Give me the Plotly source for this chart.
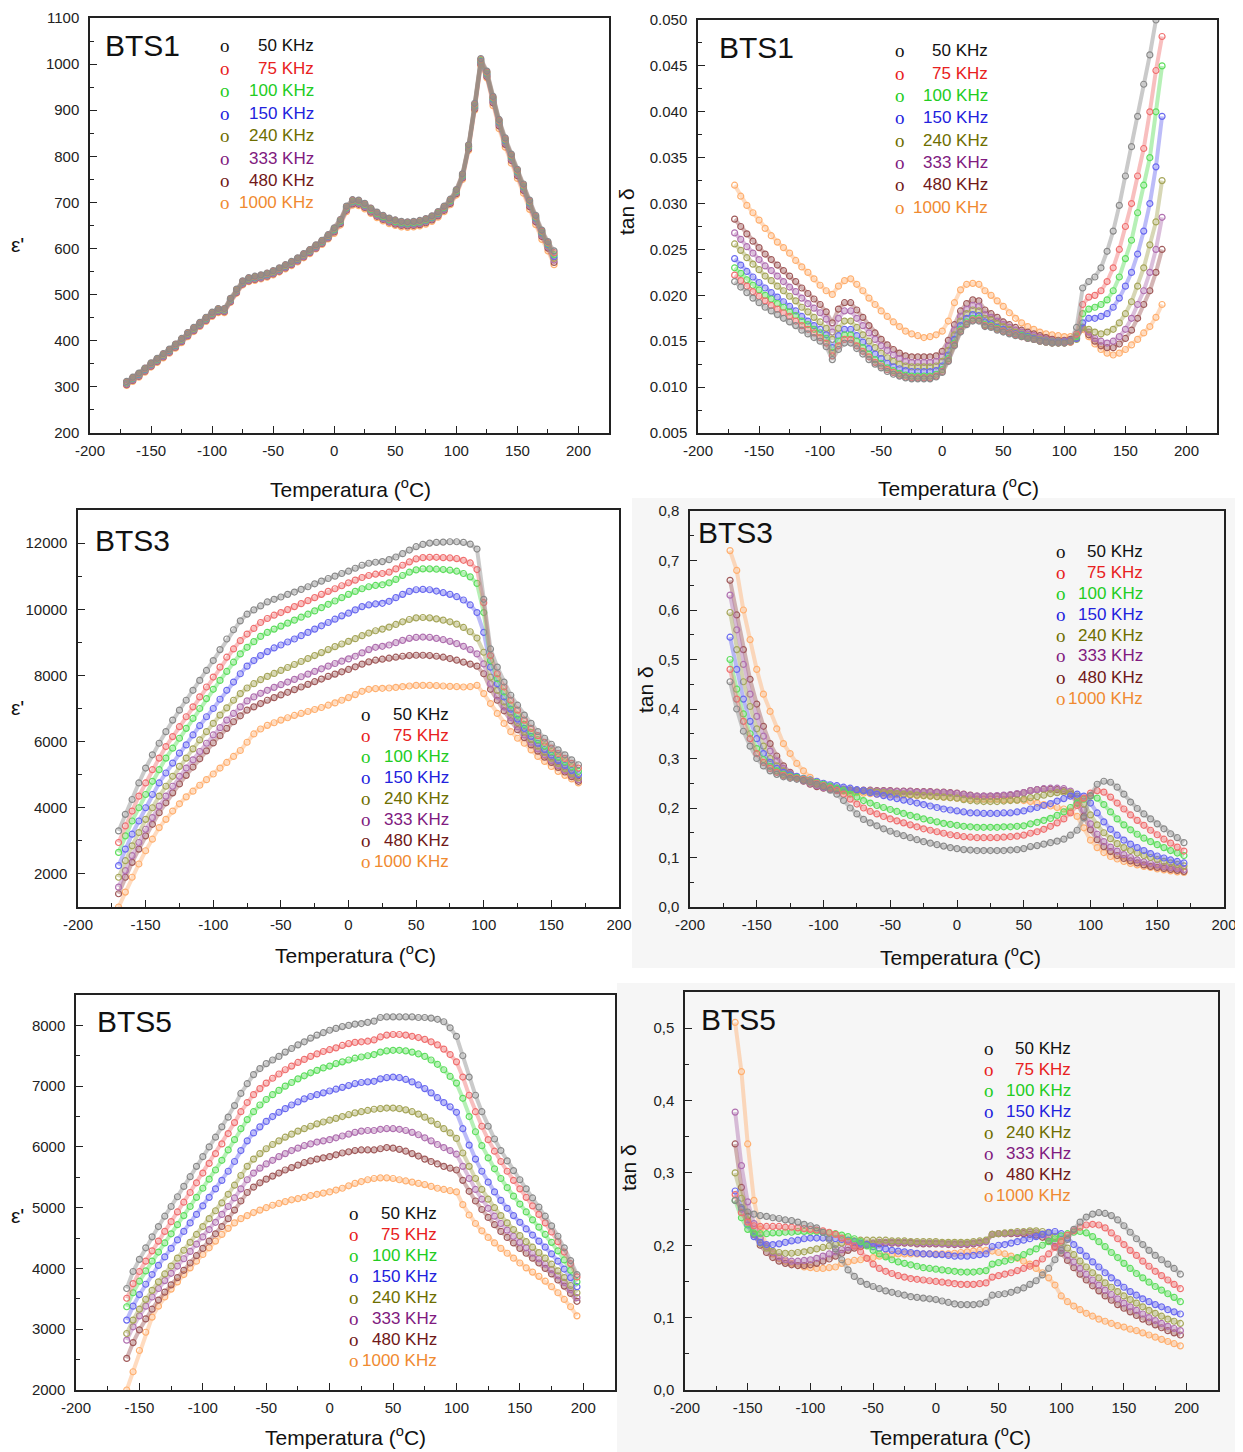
import plotly.graph_objects as go

W, H = 1243, 1452
OFF = 8                  # default page margin in front of the plot div
FW, FH = W - OFF, H - OFF

freq_labels = ["50 KHz", "75 KHz", "100 KHz", "150 KHz", "240 KHz", "333 KHz", "480 KHz", "1000 KHz"]
text_colors = ["#111111", "#e82020", "#22cc22", "#2222dd", "#6e6e00", "#801a80", "#701818", "#f08a30"]
marker_colors = ["#8a8a8a", "#f07070", "#5ede5e", "#6a6af0", "#a6a65a", "#b070b0", "#a05a5a", "#ffb070"]
band_colors = ["rgba(138,138,138,0.45)", "rgba(240,112,112,0.45)", "rgba(94,222,94,0.45)",
               "rgba(106,106,240,0.45)", "rgba(166,166,90,0.45)", "rgba(176,112,176,0.45)",
               "rgba(160,90,90,0.45)", "rgba(255,176,112,0.45)"]

# temperature grids (°C)
T1 = list(range(-170, 181, 5))
T3 = list(range(-170, 171, 5))
T5 = list(range(-160, 196, 5))

# ---------------- BTS1 eps' ----------------
eps1_50 = [312, 321, 330, 341, 352, 362, 372, 382, 393, 405,
           418, 429, 440, 451, 462, 470, 470, 492, 512, 530,
           537, 540, 543, 547, 552, 558, 565, 572, 580, 589,
           598, 608, 618, 630, 645, 663, 692, 706, 705, 698,
           688, 679, 672, 666, 662, 659, 658, 659, 661, 665,
           671, 680, 692, 707, 728, 762, 825, 915, 1012, 985,
           930, 880, 840, 805, 772, 740, 705, 672, 640, 615,
           595]
eps1_75 = [311, 320, 329, 340, 351, 361, 371, 381, 392, 404,
           417, 428, 439, 450, 461, 469, 469, 491, 511, 529,
           536, 539, 542, 546, 551, 557, 564, 571, 579, 588,
           597, 607, 617, 629, 644, 662, 691, 705, 704, 697,
           687, 678, 671, 665, 661, 658, 657, 658, 660, 664,
           670, 679, 691, 706, 727, 761, 824, 913, 1010, 983,
           928, 878, 838, 803, 770, 738, 703, 670, 638, 613,
           591]
eps1_100 = [310, 319, 328, 339, 350, 360, 370, 380, 391, 403,
            416, 427, 438, 449, 460, 468, 468, 490, 510, 528,
            535, 538, 541, 545, 550, 556, 563, 570, 578, 587,
            596, 606, 616, 628, 642, 660, 689, 703, 702, 695,
            685, 676, 669, 663, 659, 656, 655, 656, 658, 662,
            668, 677, 689, 704, 725, 759, 822, 911, 1008, 981,
            926, 876, 836, 801, 768, 736, 701, 668, 636, 611,
            587]
eps1_150 = [309, 318, 327, 338, 349, 359, 369, 379, 390, 402,
            415, 426, 437, 448, 459, 467, 467, 489, 509, 527,
            534, 537, 540, 544, 549, 555, 562, 569, 577, 586,
            595, 605, 615, 627, 641, 659, 688, 702, 701, 694,
            684, 675, 668, 662, 658, 655, 654, 655, 657, 661,
            667, 676, 688, 703, 724, 758, 821, 909, 1006, 979,
            924, 874, 834, 799, 766, 734, 699, 666, 634, 609,
            583]
eps1_240 = [308, 317, 326, 337, 348, 358, 368, 378, 389, 401,
            414, 425, 436, 447, 458, 466, 466, 488, 508, 526,
            533, 536, 539, 543, 548, 554, 561, 568, 576, 585,
            594, 604, 614, 626, 640, 658, 687, 701, 700, 693,
            683, 674, 667, 661, 657, 654, 653, 654, 656, 660,
            666, 675, 687, 702, 723, 757, 820, 907, 1004, 977,
            922, 872, 832, 797, 764, 732, 697, 664, 632, 607,
            579]
eps1_333 = [306, 315, 324, 335, 346, 356, 366, 376, 387, 399,
            412, 423, 434, 445, 456, 464, 464, 486, 506, 524,
            531, 534, 537, 541, 546, 552, 559, 566, 574, 583,
            592, 602, 612, 624, 638, 656, 685, 699, 698, 691,
            681, 672, 665, 659, 655, 652, 651, 652, 654, 658,
            664, 673, 685, 700, 721, 755, 818, 905, 1002, 975,
            919, 869, 829, 794, 761, 729, 694, 661, 629, 604,
            575]
eps1_480 = [305, 314, 323, 334, 345, 355, 365, 375, 386, 398,
            411, 422, 433, 444, 455, 463, 463, 485, 505, 523,
            530, 533, 536, 540, 545, 551, 558, 565, 573, 582,
            591, 601, 611, 623, 636, 654, 683, 697, 696, 689,
            679, 670, 663, 657, 653, 650, 649, 650, 652, 656,
            662, 671, 683, 698, 719, 753, 816, 903, 1000, 973,
            916, 866, 826, 791, 758, 726, 691, 658, 626, 601,
            570]
eps1_1000 = [303, 312, 321, 332, 343, 353, 363, 373, 384, 396,
             409, 420, 431, 442, 453, 461, 461, 483, 503, 521,
             528, 531, 534, 538, 543, 549, 556, 563, 571, 580,
             589, 599, 609, 621, 633, 651, 680, 694, 693, 686,
             676, 667, 660, 654, 650, 647, 646, 647, 649, 653,
             659, 668, 680, 695, 716, 750, 813, 900, 997, 970,
             910, 860, 820, 785, 752, 720, 685, 652, 620, 595,
             565]

# ---------------- BTS1 tan delta ----------------
tan1_50 = [0.0215, 0.0209, 0.0203, 0.0197, 0.0192, 0.0187, 0.0183, 0.0179, 0.0175, 0.0171,
           0.0167, 0.0162, 0.0158, 0.0154, 0.0150, 0.0144, 0.0130, 0.0141, 0.0148, 0.0148,
           0.0142, 0.0136, 0.0130, 0.0125, 0.0121, 0.0117, 0.0114, 0.0112, 0.0110, 0.0109,
           0.0109, 0.0109, 0.0109, 0.0111, 0.0116, 0.0128, 0.0145, 0.0160, 0.0168, 0.0172,
           0.0172, 0.0166, 0.0165, 0.0162, 0.0160, 0.0158, 0.0156, 0.0155, 0.0153, 0.0152,
           0.0150, 0.0149, 0.0148, 0.0148, 0.0148, 0.0150, 0.0165, 0.0208, 0.0215, 0.0220,
           0.0230, 0.0248, 0.0270, 0.0298, 0.0330, 0.0362, 0.0395, 0.0430, 0.0462, 0.0500,
           0.0540]
tan1_75 = [0.0222, 0.0216, 0.0210, 0.0204, 0.0199, 0.0194, 0.0189, 0.0185, 0.0181, 0.0177,
           0.0172, 0.0167, 0.0163, 0.0159, 0.0154, 0.0148, 0.0134, 0.0145, 0.0152, 0.0152,
           0.0145, 0.0139, 0.0133, 0.0127, 0.0123, 0.0119, 0.0116, 0.0113, 0.0111, 0.0110,
           0.0110, 0.0110, 0.0110, 0.0112, 0.0117, 0.0129, 0.0146, 0.0161, 0.0169, 0.0173,
           0.0173, 0.0167, 0.0166, 0.0163, 0.0161, 0.0159, 0.0157, 0.0155, 0.0153, 0.0152,
           0.0150, 0.0149, 0.0148, 0.0148, 0.0148, 0.0149, 0.0158, 0.0190, 0.0198, 0.0200,
           0.0205, 0.0215, 0.0230, 0.0250, 0.0275, 0.0300, 0.0330, 0.0360, 0.0400, 0.0445,
           0.0482]
tan1_100 = [0.0230, 0.0224, 0.0217, 0.0211, 0.0206, 0.0200, 0.0196, 0.0191, 0.0187, 0.0182,
            0.0178, 0.0172, 0.0168, 0.0163, 0.0159, 0.0153, 0.0138, 0.0150, 0.0157, 0.0157,
            0.0150, 0.0143, 0.0136, 0.0130, 0.0126, 0.0121, 0.0118, 0.0115, 0.0113, 0.0112,
            0.0112, 0.0112, 0.0112, 0.0114, 0.0119, 0.0131, 0.0148, 0.0163, 0.0171, 0.0175,
            0.0175, 0.0168, 0.0167, 0.0164, 0.0161, 0.0159, 0.0157, 0.0156, 0.0154, 0.0152,
            0.0150, 0.0149, 0.0148, 0.0148, 0.0148, 0.0149, 0.0155, 0.0180, 0.0185, 0.0187,
            0.0190, 0.0195, 0.0205, 0.0220, 0.0240, 0.0260, 0.0290, 0.0320, 0.0350, 0.0400,
            0.0450]
tan1_150 = [0.0240, 0.0233, 0.0226, 0.0220, 0.0214, 0.0208, 0.0203, 0.0198, 0.0193, 0.0188,
            0.0183, 0.0177, 0.0172, 0.0167, 0.0163, 0.0157, 0.0143, 0.0156, 0.0163, 0.0163,
            0.0156, 0.0149, 0.0142, 0.0136, 0.0131, 0.0126, 0.0122, 0.0120, 0.0118, 0.0117,
            0.0117, 0.0117, 0.0117, 0.0118, 0.0123, 0.0135, 0.0152, 0.0167, 0.0175, 0.0179,
            0.0178, 0.0171, 0.0169, 0.0165, 0.0163, 0.0160, 0.0158, 0.0157, 0.0155, 0.0153,
            0.0151, 0.0150, 0.0149, 0.0149, 0.0149, 0.0150, 0.0153, 0.0170, 0.0175, 0.0175,
            0.0177, 0.0180, 0.0187, 0.0197, 0.0210, 0.0225, 0.0245, 0.0270, 0.0300, 0.0340,
            0.0395]
tan1_240 = [0.0256, 0.0249, 0.0241, 0.0234, 0.0228, 0.0221, 0.0216, 0.0210, 0.0205, 0.0199,
            0.0194, 0.0187, 0.0182, 0.0176, 0.0171, 0.0164, 0.0152, 0.0164, 0.0172, 0.0172,
            0.0165, 0.0157, 0.0150, 0.0143, 0.0137, 0.0132, 0.0128, 0.0125, 0.0123, 0.0122,
            0.0122, 0.0122, 0.0122, 0.0123, 0.0128, 0.0140, 0.0157, 0.0172, 0.0180, 0.0184,
            0.0183, 0.0175, 0.0173, 0.0169, 0.0166, 0.0163, 0.0160, 0.0158, 0.0156, 0.0154,
            0.0152, 0.0151, 0.0150, 0.0150, 0.0149, 0.0150, 0.0152, 0.0165, 0.0163, 0.0160,
            0.0158, 0.0160, 0.0163, 0.0170, 0.0180, 0.0193, 0.0210, 0.0230, 0.0255, 0.0280,
            0.0325]
tan1_333 = [0.0268, 0.0261, 0.0253, 0.0246, 0.0239, 0.0232, 0.0227, 0.0221, 0.0215, 0.0209,
            0.0204, 0.0197, 0.0191, 0.0186, 0.0181, 0.0174, 0.0160, 0.0175, 0.0183, 0.0183,
            0.0175, 0.0167, 0.0159, 0.0152, 0.0145, 0.0140, 0.0135, 0.0131, 0.0128, 0.0127,
            0.0127, 0.0127, 0.0127, 0.0128, 0.0133, 0.0145, 0.0162, 0.0177, 0.0185, 0.0189,
            0.0188, 0.0179, 0.0176, 0.0172, 0.0168, 0.0165, 0.0162, 0.0160, 0.0158, 0.0156,
            0.0154, 0.0152, 0.0151, 0.0150, 0.0150, 0.0151, 0.0153, 0.0165, 0.0160, 0.0153,
            0.0150, 0.0148, 0.0150, 0.0155, 0.0163, 0.0175, 0.0190, 0.0205, 0.0225, 0.0250,
            0.0285]
tan1_480 = [0.0283, 0.0275, 0.0267, 0.0259, 0.0252, 0.0245, 0.0239, 0.0233, 0.0227, 0.0221,
            0.0215, 0.0208, 0.0202, 0.0196, 0.0190, 0.0182, 0.0170, 0.0185, 0.0192, 0.0192,
            0.0184, 0.0176, 0.0167, 0.0159, 0.0152, 0.0146, 0.0141, 0.0137, 0.0134, 0.0133,
            0.0133, 0.0133, 0.0133, 0.0134, 0.0139, 0.0151, 0.0168, 0.0183, 0.0191, 0.0195,
            0.0194, 0.0184, 0.0180, 0.0176, 0.0171, 0.0168, 0.0165, 0.0162, 0.0160, 0.0158,
            0.0156, 0.0154, 0.0152, 0.0151, 0.0151, 0.0152, 0.0154, 0.0165, 0.0157, 0.0150,
            0.0145, 0.0143, 0.0143, 0.0147, 0.0153, 0.0162, 0.0175, 0.0190, 0.0205, 0.0225,
            0.0250]
tan1_1000 = [0.0320, 0.0308, 0.0298, 0.0290, 0.0282, 0.0273, 0.0265, 0.0258, 0.0252, 0.0246,
             0.0238, 0.0231, 0.0225, 0.0218, 0.0211, 0.0205, 0.0201, 0.0210, 0.0216, 0.0218,
             0.0212, 0.0205, 0.0197, 0.0190, 0.0183, 0.0177, 0.0171, 0.0166, 0.0161, 0.0158,
             0.0156, 0.0154, 0.0155, 0.0157, 0.0161, 0.0172, 0.0192, 0.0206, 0.0212, 0.0213,
             0.0212, 0.0205, 0.0200, 0.0194, 0.0188, 0.0181, 0.0175, 0.0170, 0.0166, 0.0163,
             0.0160, 0.0158, 0.0157, 0.0156, 0.0155, 0.0155, 0.0156, 0.0163, 0.0155, 0.0147,
             0.0141, 0.0137, 0.0135, 0.0137, 0.0141, 0.0146, 0.0152, 0.0159, 0.0166, 0.0176,
             0.0190]

# ---------------- BTS3 eps' ----------------
eps3_50 = [3300, 3800, 4250, 4750, 5200, 5600, 5950, 6300, 6650, 6950,
           7250, 7550, 7850, 8150, 8450, 8780, 9100, 9380, 9650, 9850,
           9980, 10100, 10220, 10300, 10370, 10450, 10520, 10600, 10680, 10770,
           10850, 10930, 11000, 11080, 11150, 11240, 11330, 11390, 11420, 11440,
           11500, 11580, 11680, 11790, 11890, 11960, 12000, 12020, 12030, 12040,
           12040, 12020, 11970, 11820, 10300, 8800, 8250, 7800, 7400, 7100,
           6800, 6550, 6300, 6100, 5920, 5750, 5600, 5450, 5300]
eps3_75 = [2950, 3450, 3900, 4350, 4750, 5150, 5500, 5850, 6150, 6450,
           6750, 7050, 7350, 7650, 7950, 8250, 8550, 8800, 9050, 9250,
           9420, 9600, 9720, 9820, 9900, 9990, 10080, 10170, 10260, 10350,
           10450, 10540, 10620, 10710, 10800, 10880, 10960, 11020, 11060, 11080,
           11120, 11220, 11330, 11430, 11520, 11560, 11570, 11570, 11560, 11550,
           11530, 11480, 11400, 11200, 10200, 8600, 8050, 7650, 7250, 6950,
           6650, 6400, 6180, 5980, 5800, 5640, 5490, 5340, 5200]
eps3_100 = [2650, 3150, 3600, 4000, 4400, 4800, 5150, 5500, 5800, 6100,
            6400, 6700, 7000, 7300, 7580, 7850, 8120, 8400, 8650, 8850,
            9020, 9180, 9300, 9400, 9490, 9580, 9670, 9760, 9850, 9950,
            10050, 10150, 10250, 10350, 10450, 10540, 10620, 10680, 10720, 10740,
            10800, 10900, 11020, 11120, 11190, 11220, 11220, 11210, 11200, 11180,
            11150, 11080, 10980, 10780, 9900, 8450, 7900, 7500, 7100, 6800,
            6520, 6280, 6060, 5870, 5700, 5540, 5390, 5240, 5100]
eps3_150 = [2250, 2750, 3200, 3600, 4000, 4400, 4750, 5050, 5350, 5650,
            5900, 6200, 6480, 6750, 7000, 7280, 7550, 7800, 8050, 8280,
            8450, 8600, 8720, 8830, 8920, 9010, 9100, 9200, 9300, 9400,
            9500, 9600, 9700, 9800, 9880, 9980, 10080, 10130, 10160, 10180,
            10240, 10350, 10450, 10540, 10590, 10600, 10590, 10550, 10500, 10450,
            10380, 10280, 10130, 9900, 9300, 8250, 7750, 7350, 6980, 6680,
            6400, 6160, 5950, 5760, 5590, 5430, 5280, 5130, 5000]
eps3_240 = [1900, 2400, 2850, 3250, 3650, 4000, 4350, 4650, 4950, 5250,
            5500, 5780, 6050, 6300, 6550, 6800, 7020, 7250, 7450, 7620,
            7750, 7870, 7970, 8060, 8150, 8240, 8330, 8420, 8510, 8600,
            8690, 8780, 8870, 8950, 9030, 9110, 9200, 9280, 9350, 9400,
            9460, 9540, 9620, 9690, 9740, 9750, 9740, 9710, 9670, 9620,
            9550, 9450, 9320, 9130, 8700, 7950, 7550, 7200, 6860, 6570,
            6300, 6070, 5860, 5670, 5500, 5340, 5190, 5040, 4900]
eps3_333 = [1600, 2100, 2550, 2950, 3350, 3700, 4050, 4350, 4650, 4950,
            5200, 5450, 5700, 5950, 6200, 6420, 6650, 6850, 7050, 7230,
            7350, 7460, 7550, 7640, 7720, 7800, 7880, 7960, 8040, 8120,
            8200, 8280, 8360, 8430, 8500, 8580, 8680, 8780, 8850, 8880,
            8920, 8990, 9060, 9120, 9150, 9160, 9150, 9120, 9080, 9030,
            8960, 8880, 8780, 8650, 8350, 7750, 7380, 7050, 6730, 6450,
            6200, 5980, 5780, 5600, 5430, 5280, 5130, 4990, 4850]
eps3_480 = [1400, 1900, 2350, 2750, 3150, 3500, 3850, 4150, 4450, 4720,
            4980, 5230, 5480, 5720, 5960, 6180, 6400, 6600, 6780, 6950,
            7050, 7150, 7250, 7330, 7410, 7490, 7570, 7650, 7730, 7810,
            7890, 7970, 8040, 8110, 8180, 8260, 8340, 8410, 8460, 8490,
            8520, 8550, 8580, 8600, 8610, 8610, 8600, 8580, 8550, 8510,
            8460, 8400, 8340, 8280, 8050, 7580, 7250, 6930, 6630, 6360,
            6120, 5900, 5710, 5530, 5370, 5220, 5080, 4940, 4800]
eps3_1000 = [1000, 1450, 1900, 2300, 2700, 3050, 3400, 3650, 3900, 4120,
             4330, 4500, 4680, 4850, 5020, 5200, 5370, 5550, 5730, 5980,
             6230, 6380, 6490, 6570, 6650, 6720, 6790, 6850, 6910, 6970,
             7030, 7100, 7170, 7250, 7330, 7420, 7520, 7580, 7600, 7610,
             7620, 7640, 7660, 7680, 7700, 7700, 7700, 7690, 7680, 7670,
             7660, 7650, 7660, 7700, 7450, 7150, 6850, 6550, 6300, 6100,
             5950, 5750, 5550, 5400, 5250, 5100, 4980, 4870, 4750]

# ---------------- BTS3 tan delta ----------------
tan3_50 = [0.455, 0.400, 0.355, 0.325, 0.300, 0.285, 0.275, 0.268, 0.263, 0.260,
           0.258, 0.256, 0.253, 0.248, 0.243, 0.236, 0.228, 0.215, 0.200, 0.188,
           0.177, 0.170, 0.164, 0.158, 0.153, 0.148, 0.144, 0.140, 0.136, 0.132,
           0.129, 0.126, 0.123, 0.120, 0.118, 0.116, 0.115, 0.114, 0.114, 0.114,
           0.114, 0.114, 0.115, 0.116, 0.118, 0.122, 0.124, 0.127, 0.130, 0.133,
           0.137, 0.145, 0.155, 0.180, 0.225, 0.248, 0.254, 0.252, 0.242, 0.228,
           0.212, 0.199, 0.188, 0.178, 0.168, 0.158, 0.148, 0.140, 0.130]
tan3_75 = [0.480, 0.420, 0.375, 0.340, 0.310, 0.292, 0.280, 0.272, 0.266, 0.262,
           0.260, 0.258, 0.255, 0.250, 0.245, 0.240, 0.235, 0.228, 0.218, 0.208,
           0.200, 0.193, 0.188, 0.183, 0.178, 0.174, 0.170, 0.166, 0.162, 0.158,
           0.155, 0.152, 0.149, 0.146, 0.144, 0.142, 0.141, 0.140, 0.140, 0.140,
           0.140, 0.141, 0.142, 0.143, 0.145, 0.149, 0.152, 0.157, 0.163, 0.170,
           0.178, 0.190, 0.205, 0.220, 0.230, 0.235, 0.232, 0.222, 0.210, 0.198,
           0.186, 0.175, 0.165, 0.155, 0.146, 0.137, 0.129, 0.121, 0.113]
tan3_100 = [0.500, 0.440, 0.390, 0.350, 0.320, 0.298, 0.284, 0.275, 0.268, 0.264,
            0.262, 0.259, 0.256, 0.252, 0.248, 0.244, 0.240, 0.235, 0.228, 0.222,
            0.215, 0.210, 0.205, 0.201, 0.197, 0.193, 0.189, 0.185, 0.182, 0.178,
            0.175, 0.172, 0.169, 0.167, 0.165, 0.163, 0.162, 0.161, 0.161, 0.161,
            0.161, 0.162, 0.162, 0.163, 0.164, 0.168, 0.171, 0.175, 0.179, 0.185,
            0.192, 0.201, 0.210, 0.218, 0.224, 0.220, 0.207, 0.192, 0.178, 0.166,
            0.156, 0.147, 0.139, 0.132, 0.126, 0.120, 0.114, 0.109, 0.104]
tan3_150 = [0.545, 0.480, 0.420, 0.375, 0.340, 0.310, 0.292, 0.280, 0.272, 0.267,
            0.264, 0.260, 0.257, 0.254, 0.250, 0.247, 0.245, 0.242, 0.240, 0.237,
            0.235, 0.231, 0.228, 0.225, 0.222, 0.219, 0.216, 0.213, 0.210, 0.207,
            0.204, 0.201, 0.198, 0.196, 0.194, 0.192, 0.190, 0.190, 0.189, 0.189,
            0.189, 0.190, 0.190, 0.192, 0.194, 0.198, 0.201, 0.205, 0.209, 0.214,
            0.219, 0.224, 0.228, 0.224, 0.210, 0.190, 0.172, 0.157, 0.145, 0.135,
            0.127, 0.120, 0.114, 0.108, 0.103, 0.099, 0.095, 0.092, 0.089]
tan3_240 = [0.595, 0.520, 0.455, 0.405, 0.360, 0.325, 0.300, 0.285, 0.275, 0.268,
            0.262, 0.257, 0.252, 0.248, 0.245, 0.242, 0.240, 0.238, 0.236, 0.235,
            0.234, 0.233, 0.232, 0.231, 0.230, 0.229, 0.228, 0.227, 0.226, 0.225,
            0.224, 0.223, 0.222, 0.221, 0.220, 0.217, 0.215, 0.214, 0.213, 0.213,
            0.213, 0.214, 0.215, 0.216, 0.218, 0.221, 0.223, 0.226, 0.229, 0.231,
            0.232, 0.231, 0.224, 0.208, 0.186, 0.166, 0.150, 0.138, 0.128, 0.120,
            0.114, 0.109, 0.104, 0.100, 0.096, 0.092, 0.089, 0.086, 0.083]
tan3_333 = [0.630, 0.560, 0.490, 0.430, 0.385, 0.345, 0.315, 0.295, 0.280, 0.270,
            0.262, 0.255, 0.250, 0.245, 0.241, 0.239, 0.238, 0.237, 0.236, 0.235,
            0.235, 0.235, 0.234, 0.234, 0.234, 0.233, 0.233, 0.233, 0.232, 0.232,
            0.232, 0.231, 0.231, 0.230, 0.229, 0.227, 0.225, 0.224, 0.224, 0.224,
            0.225, 0.226, 0.227, 0.229, 0.231, 0.235, 0.237, 0.239, 0.240, 0.240,
            0.239, 0.234, 0.220, 0.196, 0.168, 0.147, 0.132, 0.121, 0.113, 0.106,
            0.100, 0.095, 0.091, 0.088, 0.085, 0.082, 0.080, 0.078, 0.076]
tan3_480 = [0.660, 0.590, 0.520, 0.460, 0.410, 0.365, 0.330, 0.305, 0.285, 0.272,
            0.262, 0.254, 0.248, 0.243, 0.240, 0.238, 0.237, 0.237, 0.236, 0.236,
            0.236, 0.236, 0.235, 0.235, 0.235, 0.234, 0.234, 0.234, 0.233, 0.233,
            0.233, 0.232, 0.232, 0.231, 0.230, 0.228, 0.226, 0.224, 0.224, 0.224,
            0.224, 0.225, 0.226, 0.228, 0.231, 0.235, 0.237, 0.238, 0.238, 0.237,
            0.235, 0.228, 0.210, 0.183, 0.156, 0.136, 0.122, 0.112, 0.104, 0.098,
            0.093, 0.089, 0.085, 0.082, 0.080, 0.078, 0.076, 0.074, 0.072]
tan3_1000 = [0.720, 0.680, 0.600, 0.540, 0.480, 0.430, 0.395, 0.360, 0.330, 0.310,
             0.290, 0.275, 0.262, 0.252, 0.245, 0.240, 0.237, 0.234, 0.232, 0.231,
             0.230, 0.229, 0.228, 0.228, 0.227, 0.227, 0.226, 0.226, 0.225, 0.225,
             0.224, 0.223, 0.222, 0.221, 0.220, 0.219, 0.218, 0.218, 0.218, 0.218,
             0.218, 0.217, 0.217, 0.216, 0.215, 0.213, 0.210, 0.207, 0.204, 0.201,
             0.198, 0.193, 0.183, 0.160, 0.135, 0.120, 0.110, 0.102, 0.097, 0.092,
             0.088, 0.085, 0.082, 0.080, 0.077, 0.075, 0.073, 0.071, 0.070]

# ---------------- BTS5 eps' ----------------
eps5_50 = [3670, 3950, 4150, 4340, 4520, 4690, 4860, 5020, 5180, 5350,
           5510, 5680, 5840, 6000, 6160, 6330, 6490, 6680, 6880, 7040,
           7190, 7290, 7370, 7430, 7490, 7560, 7620, 7680, 7730, 7790,
           7840, 7880, 7920, 7950, 7980, 8000, 8020, 8030, 8050, 8070,
           8130, 8140, 8140, 8140, 8140, 8140, 8130, 8130, 8120, 8100,
           8060, 7960, 7820, 7500, 7150, 6850, 6580, 6340, 6130, 5940,
           5770, 5610, 5460, 5310, 5160, 5010, 4860, 4700, 4530, 4340,
           4130, 3900]
eps5_75 = [3510, 3750, 3950, 4120, 4290, 4450, 4610, 4770, 4930, 5090,
           5250, 5410, 5570, 5730, 5890, 6050, 6220, 6400, 6580, 6730,
           6860, 6960, 7050, 7130, 7200, 7270, 7330, 7390, 7440, 7490,
           7530, 7570, 7600, 7630, 7670, 7700, 7720, 7730, 7740, 7760,
           7810, 7840, 7850, 7850, 7840, 7820, 7800, 7770, 7730, 7680,
           7610, 7520, 7400, 7150, 6850, 6580, 6340, 6120, 5930, 5760,
           5600, 5450, 5310, 5170, 5030, 4890, 4750, 4600, 4440, 4270,
           4080, 3860]
eps5_100 = [3370, 3600, 3790, 3960, 4120, 4270, 4420, 4570, 4720, 4870,
            5020, 5170, 5320, 5470, 5620, 5780, 5950, 6120, 6300, 6450,
            6580, 6690, 6780, 6860, 6930, 7000, 7060, 7120, 7170, 7220,
            7260, 7300, 7330, 7370, 7400, 7430, 7460, 7480, 7500, 7520,
            7560, 7580, 7590, 7590, 7580, 7560, 7530, 7490, 7430, 7360,
            7270, 7160, 7050, 6800, 6500, 6250, 6020, 5820, 5640, 5480,
            5330, 5190, 5060, 4930, 4800, 4680, 4560, 4430, 4290, 4140,
            3970, 3780]
eps5_150 = [3150, 3380, 3570, 3740, 3900, 4050, 4190, 4330, 4470, 4610,
            4750, 4890, 5030, 5170, 5310, 5450, 5600, 5760, 5940, 6100,
            6230, 6330, 6420, 6500, 6570, 6630, 6690, 6740, 6790, 6830,
            6860, 6890, 6920, 6950, 6980, 7010, 7040, 7060, 7070, 7080,
            7120, 7140, 7150, 7140, 7110, 7070, 7020, 6960, 6890, 6810,
            6730, 6660, 6570, 6300, 6030, 5800, 5600, 5420, 5260, 5120,
            4990, 4870, 4760, 4650, 4550, 4450, 4350, 4240, 4120, 3990,
            3850, 3700]
eps5_240 = [2930, 3150, 3330, 3490, 3640, 3780, 3910, 4040, 4170, 4300,
            4430, 4560, 4690, 4820, 4950, 5080, 5220, 5370, 5530, 5680,
            5800, 5890, 5970, 6040, 6100, 6160, 6210, 6260, 6300, 6340,
            6380, 6410, 6440, 6470, 6500, 6530, 6560, 6580, 6600, 6620,
            6630, 6640, 6640, 6630, 6610, 6580, 6540, 6490, 6430, 6370,
            6300, 6230, 6140, 5900, 5680, 5480, 5300, 5140, 5000, 4870,
            4750, 4640, 4540, 4440, 4350, 4260, 4170, 4070, 3960, 3850,
            3720, 3600]
eps5_333 = [2820, 3040, 3220, 3380, 3530, 3670, 3800, 3920, 4040, 4160,
            4280, 4400, 4520, 4640, 4760, 4890, 5020, 5160, 5310, 5460,
            5570, 5650, 5720, 5780, 5840, 5890, 5940, 5980, 6020, 6050,
            6080, 6100, 6120, 6150, 6180, 6210, 6240, 6260, 6270, 6270,
            6290, 6300, 6300, 6290, 6270, 6240, 6200, 6150, 6100, 6040,
            5990, 5940, 5880, 5680, 5480, 5300, 5140, 4990, 4860, 4740,
            4630, 4530, 4430, 4340, 4250, 4160, 4070, 3980, 3880, 3770,
            3650, 3520]
eps5_480 = [2520, 2780, 2990, 3170, 3330, 3480, 3610, 3730, 3850, 3970,
            4090, 4210, 4330, 4450, 4570, 4690, 4820, 4960, 5110, 5250,
            5340, 5410, 5470, 5520, 5570, 5620, 5660, 5700, 5740, 5770,
            5800, 5820, 5840, 5870, 5900, 5920, 5940, 5950, 5950, 5950,
            5970, 5990, 5980, 5960, 5930, 5890, 5850, 5800, 5760, 5720,
            5680, 5650, 5620, 5450, 5270, 5110, 4970, 4840, 4720, 4610,
            4510, 4420, 4330, 4250, 4170, 4090, 4000, 3910, 3810, 3710,
            3590, 3460]
eps5_1000 = [2000, 2300, 2650, 2950, 3200, 3380, 3530, 3660, 3780, 3900,
             4010, 4120, 4230, 4340, 4450, 4560, 4660, 4750, 4820, 4870,
             4920, 4960, 5000, 5040, 5070, 5100, 5130, 5150, 5170, 5200,
             5220, 5240, 5260, 5290, 5320, 5360, 5400, 5430, 5460, 5480,
             5490, 5490, 5480, 5460, 5440, 5420, 5400, 5380, 5350, 5320,
             5300, 5280, 5260, 5050, 4880, 4740, 4620, 4510, 4420, 4330,
             4250, 4170, 4090, 4010, 3940, 3870, 3790, 3700, 3600, 3490,
             3370, 3220]

# ---------------- BTS5 tan delta ----------------
tan5_50 = [0.262, 0.252, 0.246, 0.243, 0.241, 0.240, 0.238, 0.237, 0.235, 0.234,
           0.232, 0.229, 0.227, 0.224, 0.218, 0.208, 0.195, 0.180, 0.166, 0.157,
           0.150, 0.146, 0.143, 0.140, 0.137, 0.135, 0.133, 0.131, 0.129, 0.128,
           0.127, 0.126, 0.125, 0.123, 0.121, 0.119, 0.118, 0.118, 0.118, 0.119,
           0.121, 0.131, 0.132, 0.133, 0.135, 0.138, 0.141, 0.146, 0.151, 0.159,
           0.168, 0.180, 0.193, 0.208, 0.222, 0.232, 0.239, 0.243, 0.245, 0.244,
           0.241, 0.235, 0.227, 0.218, 0.209, 0.201, 0.193, 0.186, 0.180, 0.174,
           0.168, 0.160]
tan5_75 = [0.270, 0.245, 0.232, 0.227, 0.226, 0.226, 0.226, 0.226, 0.225, 0.225,
           0.224, 0.223, 0.222, 0.221, 0.220, 0.218, 0.215, 0.210, 0.205, 0.199,
           0.191, 0.182, 0.174, 0.168, 0.164, 0.161, 0.158, 0.156, 0.154, 0.153,
           0.152, 0.151, 0.150, 0.149, 0.148, 0.147, 0.146, 0.146, 0.146, 0.147,
           0.148, 0.156, 0.158, 0.160, 0.162, 0.165, 0.168, 0.171, 0.175, 0.181,
           0.188, 0.197, 0.206, 0.214, 0.220, 0.225, 0.228, 0.229, 0.228, 0.224,
           0.217, 0.209, 0.201, 0.193, 0.186, 0.178, 0.171, 0.164, 0.158, 0.152,
           0.146, 0.140]
tan5_100 = [0.262, 0.238, 0.222, 0.217, 0.216, 0.216, 0.217, 0.217, 0.218, 0.218,
            0.219, 0.219, 0.219, 0.219, 0.218, 0.217, 0.216, 0.214, 0.212, 0.209,
            0.205, 0.199, 0.193, 0.188, 0.184, 0.180, 0.177, 0.175, 0.173, 0.171,
            0.169, 0.168, 0.167, 0.166, 0.165, 0.164, 0.163, 0.163, 0.163, 0.164,
            0.165, 0.174, 0.176, 0.178, 0.180, 0.183, 0.187, 0.191, 0.195, 0.200,
            0.205, 0.209, 0.213, 0.216, 0.218, 0.219, 0.217, 0.212, 0.205, 0.198,
            0.190, 0.183, 0.175, 0.168, 0.161, 0.155, 0.149, 0.143, 0.138, 0.133,
            0.128, 0.122]
tan5_150 = [0.275, 0.250, 0.228, 0.212, 0.204, 0.201, 0.201, 0.202, 0.204, 0.206,
            0.207, 0.209, 0.210, 0.210, 0.210, 0.210, 0.209, 0.208, 0.207, 0.205,
            0.203, 0.201, 0.198, 0.196, 0.195, 0.193, 0.192, 0.191, 0.190, 0.189,
            0.188, 0.188, 0.187, 0.187, 0.186, 0.185, 0.185, 0.185, 0.186, 0.187,
            0.188, 0.198, 0.200, 0.201, 0.203, 0.205, 0.207, 0.209, 0.212, 0.215,
            0.218, 0.219, 0.216, 0.210, 0.201, 0.193, 0.185, 0.177, 0.170, 0.162,
            0.155, 0.148, 0.142, 0.136, 0.131, 0.126, 0.122, 0.118, 0.115, 0.111,
            0.108, 0.105]
tan5_240 = [0.300, 0.265, 0.235, 0.215, 0.203, 0.196, 0.192, 0.190, 0.189, 0.189,
            0.190, 0.191, 0.193, 0.195, 0.197, 0.199, 0.201, 0.203, 0.205, 0.206,
            0.207, 0.207, 0.207, 0.207, 0.207, 0.206, 0.206, 0.206, 0.205, 0.205,
            0.205, 0.205, 0.205, 0.204, 0.204, 0.204, 0.204, 0.204, 0.205, 0.206,
            0.207, 0.215, 0.216, 0.217, 0.218, 0.219, 0.219, 0.220, 0.220, 0.219,
            0.217, 0.212, 0.204, 0.196, 0.187, 0.178, 0.170, 0.162, 0.155, 0.148,
            0.142, 0.136, 0.130, 0.125, 0.120, 0.115, 0.110, 0.106, 0.102, 0.098,
            0.095, 0.092]
tan5_333 = [0.384, 0.310, 0.260, 0.230, 0.210, 0.198, 0.190, 0.184, 0.180, 0.178,
            0.178, 0.179, 0.180, 0.182, 0.185, 0.188, 0.191, 0.194, 0.197, 0.199,
            0.201, 0.202, 0.203, 0.204, 0.204, 0.204, 0.204, 0.204, 0.204, 0.203,
            0.203, 0.203, 0.203, 0.202, 0.202, 0.202, 0.202, 0.202, 0.203, 0.204,
            0.205, 0.215, 0.216, 0.216, 0.217, 0.217, 0.218, 0.218, 0.217, 0.215,
            0.210, 0.203, 0.195, 0.186, 0.177, 0.168, 0.160, 0.152, 0.145, 0.138,
            0.132, 0.126, 0.120, 0.115, 0.110, 0.105, 0.100, 0.096, 0.092, 0.088,
            0.085, 0.082]
tan5_480 = [0.340, 0.280, 0.240, 0.215, 0.200, 0.190, 0.183, 0.178, 0.175, 0.173,
            0.172, 0.172, 0.173, 0.175, 0.178, 0.181, 0.185, 0.189, 0.193, 0.196,
            0.198, 0.200, 0.202, 0.202, 0.203, 0.203, 0.203, 0.203, 0.203, 0.202,
            0.202, 0.202, 0.202, 0.202, 0.201, 0.201, 0.201, 0.201, 0.202, 0.203,
            0.205, 0.215, 0.216, 0.216, 0.216, 0.216, 0.216, 0.215, 0.214, 0.211,
            0.206, 0.198, 0.189, 0.179, 0.169, 0.160, 0.152, 0.144, 0.137, 0.130,
            0.124, 0.118, 0.113, 0.108, 0.103, 0.098, 0.094, 0.090, 0.086, 0.082,
            0.079, 0.076]
tan5_1000 = [0.508, 0.440, 0.340, 0.262, 0.222, 0.200, 0.188, 0.182, 0.178, 0.175,
             0.172, 0.170, 0.169, 0.168, 0.168, 0.169, 0.170, 0.175, 0.177, 0.179,
             0.180, 0.182, 0.183, 0.185, 0.186, 0.187, 0.188, 0.188, 0.188, 0.188,
             0.188, 0.188, 0.188, 0.188, 0.188, 0.189, 0.190, 0.191, 0.192, 0.193,
             0.193, 0.192, 0.190, 0.188, 0.185, 0.182, 0.178, 0.174, 0.168, 0.162,
             0.155, 0.145, 0.130, 0.122, 0.116, 0.111, 0.106, 0.102, 0.098, 0.095,
             0.092, 0.089, 0.087, 0.084, 0.082, 0.079, 0.076, 0.073, 0.070, 0.067,
             0.064, 0.061]

# ---------------- layout helpers ----------------
def px(x):
    return (x - OFF) / FW


def py(y):
    return 1 - (y - OFF) / FH


AX_FONT = "Liberation Sans, Arial, sans-serif"
LINE_C = "#222222"
XT_VALS = [-200, -150, -100, -50, 0, 50, 100, 150, 200]
XT_TEXT = ["-200", "-150", "-100", "-50", "0", "50", "100", "150", "200"]

panels = [
    dict(label="BTS1", T=T1, series=[eps1_50, eps1_75, eps1_100, eps1_150, eps1_240, eps1_333, eps1_480, eps1_1000],
         box=(90, 18, 609, 433), xr=[-200, 225], yr=[200, 1100],
         yt=[200, 300, 400, 500, 600, 700, 800, 900, 1000, 1100],
         ytext=["200", "300", "400", "500", "600", "700", "800", "900", "1000", "1100"], ymin_step=50,
         label_xy=(103, 46), leg=(225, 316, 46, 22.4), xt_xy=(350, 488), yt_xy=(17, 245), ytitle="ε'", rot=False),
    dict(label="BTS1", T=T1, series=[tan1_50, tan1_75, tan1_100, tan1_150, tan1_240, tan1_333, tan1_480, tan1_1000],
         box=(698, 20, 1217, 433), xr=[-200, 225], yr=[0.005, 0.050],
         yt=[0.005, 0.010, 0.015, 0.020, 0.025, 0.030, 0.035, 0.040, 0.045, 0.050],
         ytext=["0.005", "0.010", "0.015", "0.020", "0.025", "0.030", "0.035", "0.040", "0.045", "0.050"],
         ymin_step=0.0025,
         label_xy=(717, 47), leg=(900, 990, 51, 22.3), xt_xy=(958, 487), yt_xy=(627, 212), ytitle="tan δ", rot=True),
    dict(label="BTS3", T=T3, series=[eps3_50, eps3_75, eps3_100, eps3_150, eps3_240, eps3_333, eps3_480, eps3_1000],
         box=(78, 510, 619, 907), xr=[-200, 200], yr=[1000, 13000],
         yt=[2000, 4000, 6000, 8000, 10000, 12000],
         ytext=["2000", "4000", "6000", "8000", "10000", "12000"], ymin_step=1000,
         label_xy=(93, 540), leg=(366, 451, 714, 21.1), xt_xy=(355, 954), yt_xy=(17, 707), ytitle="ε'", rot=False),
    dict(label="BTS3", T=T3, series=[tan3_50, tan3_75, tan3_100, tan3_150, tan3_240, tan3_333, tan3_480, tan3_1000],
         box=(690, 511, 1224, 907), xr=[-200, 200], yr=[0, 0.8],
         yt=[0, 0.1, 0.2, 0.3, 0.4, 0.5, 0.6, 0.7, 0.8],
         ytext=["0,0", "0,1", "0,2", "0,3", "0,4", "0,5", "0,6", "0,7", "0,8"], ymin_step=0.05,
         label_xy=(696, 532), leg=(1061, 1145, 551, 21.0), xt_xy=(960, 956), yt_xy=(645, 690), ytitle="tan δ", rot=True),
    dict(label="BTS5", T=T5, series=[eps5_50, eps5_75, eps5_100, eps5_150, eps5_240, eps5_333, eps5_480, eps5_1000],
         box=(76, 995, 615, 1390), xr=[-200, 225], yr=[2000, 8500],
         yt=[2000, 3000, 4000, 5000, 6000, 7000, 8000],
         ytext=["2000", "3000", "4000", "5000", "6000", "7000", "8000"], ymin_step=500,
         label_xy=(95, 1022), leg=(354, 439, 1213, 21.1), xt_xy=(345, 1436), yt_xy=(17, 1215), ytitle="ε'", rot=False),
    dict(label="BTS5", T=T5, series=[tan5_50, tan5_75, tan5_100, tan5_150, tan5_240, tan5_333, tan5_480, tan5_1000],
         box=(685, 992, 1218, 1390), xr=[-200, 225], yr=[0, 0.55],
         yt=[0, 0.1, 0.2, 0.3, 0.4, 0.5], ytext=["0,0", "0,1", "0,2", "0,3", "0,4", "0,5"], ymin_step=0.05,
         label_xy=(699, 1019), leg=(989, 1073, 1048, 21.1), xt_xy=(950, 1436), yt_xy=(628, 1168), ytitle="tan δ", rot=True),
]

fig = go.Figure()
layout = dict(
    width=FW, height=FH, margin=dict(l=0, r=0, t=0, b=0, pad=0), autosize=False,
    paper_bgcolor="white", plot_bgcolor="rgba(0,0,0,0)", showlegend=False,
    annotations=[], shapes=[],
)

# light gray backgrounds behind the two lower right panels
layout["shapes"].append(dict(type="rect", xref="paper", yref="paper", x0=px(632), x1=px(1241),
                             y0=py(968), y1=py(498), fillcolor="#f6f6f6", line=dict(width=0), layer="below"))
layout["shapes"].append(dict(type="rect", xref="paper", yref="paper", x0=px(617), x1=1,
                             y0=0, y1=py(983), fillcolor="#f6f6f6", line=dict(width=0), layer="below"))

for i, p in enumerate(panels, start=1):
    sx = "" if i == 1 else str(i)
    x0, y0, x1, y1 = p["box"]
    xmax = p["xr"][1]
    xminor = [v for v in range(-175, 226, 50) if v < xmax]
    ylo, yhi = p["yr"]
    ymin_vals = []
    k = 0
    while True:
        v = round(p["yt"][0] + (2 * k + 1) * p["ymin_step"], 6)
        if v >= yhi:
            break
        ymin_vals.append(v)
        k += 1
    if p["yt"][0] - p["ymin_step"] > ylo - 1e-9:
        ymin_vals.insert(0, p["yt"][0] - p["ymin_step"])
    layout["xaxis" + sx] = dict(
        domain=[px(x0), px(x1)], range=p["xr"], anchor="y" + sx, automargin=False,
        showline=True, mirror=True, linecolor=LINE_C, linewidth=1.5,
        ticks="inside", ticklen=7, tickwidth=1.3, tickcolor=LINE_C,
        tickmode="array", tickvals=XT_VALS, ticktext=XT_TEXT,
        tickfont=dict(family=AX_FONT, size=15, color="#222"),
        minor=dict(tickmode="array", tickvals=xminor, ticks="inside", ticklen=4, tickwidth=1.1, tickcolor=LINE_C),
        showgrid=False, zeroline=False, ticklabelstandoff=3,
    )
    layout["yaxis" + sx] = dict(
        domain=[py(y1), py(y0)], range=p["yr"], anchor="x" + sx, automargin=False,
        showline=True, mirror=True, linecolor=LINE_C, linewidth=1.5,
        ticks="inside", ticklen=7, tickwidth=1.3, tickcolor=LINE_C,
        tickmode="array", tickvals=p["yt"], ticktext=p["ytext"],
        tickfont=dict(family=AX_FONT, size=15, color="#222"),
        minor=dict(tickmode="array", tickvals=ymin_vals, ticks="inside", ticklen=4, tickwidth=1.1, tickcolor=LINE_C),
        showgrid=False, zeroline=False, ticklabelstandoff=6,
    )

    # traces: highest frequency first so 50 KHz sits on top
    for j in reversed(range(8)):
        fig.add_trace(go.Scatter(
            x=p["T"], y=p["series"][j], mode="lines+markers", name=freq_labels[j],
            xaxis="x" + sx, yaxis="y" + sx, showlegend=False, hoverinfo="skip",
            line=dict(color=band_colors[j], width=4),
            marker=dict(symbol="circle-open", size=6, color=marker_colors[j], line=dict(width=1.2)),
        ))

    # panel label
    lx, ly = p["label_xy"]
    layout["annotations"].append(dict(
        x=px(lx), y=py(ly), xref="paper", yref="paper", text=p["label"], showarrow=False,
        xanchor="left", yanchor="middle", font=dict(family=AX_FONT, size=30, color="#111")))

    # legend-like text list
    ox, rx, ly0, dy = p["leg"]
    for j in range(8):
        yy = ly0 + j * dy
        layout["annotations"].append(dict(
            x=px(ox), y=py(yy), xref="paper", yref="paper", text="o", showarrow=False,
            xanchor="center", yanchor="middle",
            font=dict(family="Liberation Serif, Times New Roman, serif", size=19, color=text_colors[j])))
        layout["annotations"].append(dict(
            x=px(rx), y=py(yy), xref="paper", yref="paper", text=freq_labels[j], showarrow=False,
            xanchor="right", yanchor="middle", font=dict(family=AX_FONT, size=17, color=text_colors[j])))

    # axis titles
    tx, ty = p["xt_xy"]
    layout["annotations"].append(dict(
        x=px(tx), y=py(ty), xref="paper", yref="paper", text="Temperatura (<sup>o</sup>C)", showarrow=False,
        xanchor="center", yanchor="middle", font=dict(family=AX_FONT, size=21, color="#111")))
    yx, yy = p["yt_xy"]
    layout["annotations"].append(dict(
        x=px(yx), y=py(yy), xref="paper", yref="paper", text=p["ytitle"], showarrow=False,
        xanchor="center", yanchor="middle", textangle=-90 if p["rot"] else 0,
        font=dict(family=AX_FONT, size=21, color="#111")))

fig.update_layout(**layout)
fig.write_html("out.html")
